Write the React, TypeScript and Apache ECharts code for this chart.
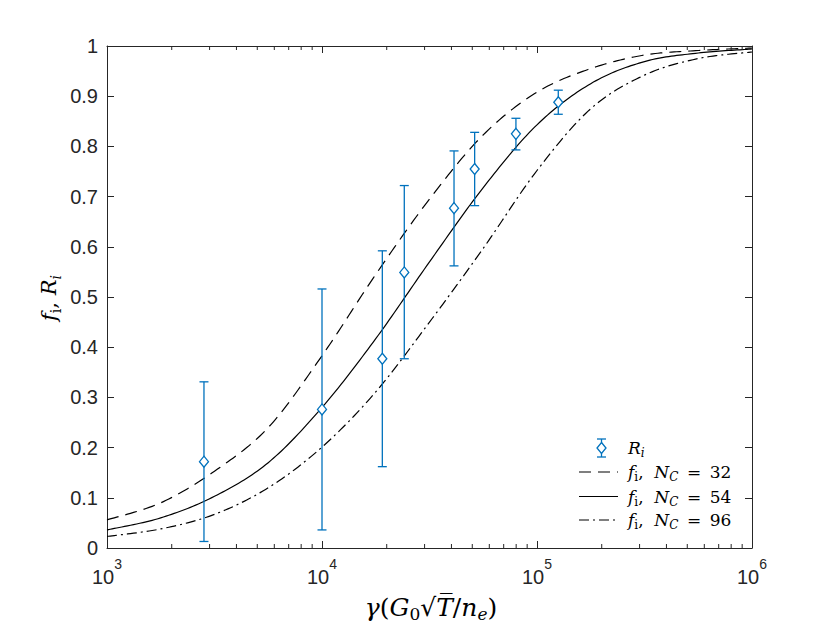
import React, { useEffect, useRef } from "react";
import * as echarts from "echarts";

// ---- data ----
const curveX = [1000, 1778, 3162, 5623, 10000, 17783, 31623, 56234, 100000, 177828, 316228, 562341, 1000000];
const fNc32 = [0.056, 0.09, 0.153, 0.24, 0.383, 0.545, 0.695, 0.823, 0.908, 0.955, 0.982, 0.991, 0.996];
const fNc54 = [0.036, 0.06, 0.103, 0.17, 0.28, 0.417, 0.57, 0.718, 0.843, 0.925, 0.969, 0.986, 0.994];
const fNc96 = [0.023, 0.038, 0.067, 0.12, 0.201, 0.311, 0.45, 0.597, 0.752, 0.875, 0.942, 0.975, 0.988];

const rX = [2825, 10000, 19080, 24140, 41120, 51290, 79800, 125600];
const rY = [0.172, 0.276, 0.377, 0.549, 0.677, 0.755, 0.825, 0.888];
const rLo = [0.013, 0.036, 0.162, 0.377, 0.562, 0.682, 0.793, 0.864];
const rHi = [0.331, 0.516, 0.592, 0.722, 0.791, 0.828, 0.856, 0.912];

const minorTicks = [
  2000, 3000, 4000, 5000, 6000, 7000, 8000, 9000,
  20000, 30000, 40000, 50000, 60000, 70000, 80000, 90000,
  200000, 300000, 400000, 500000, 600000, 700000, 800000, 900000,
];

const legendLabels = ["32", "54", "96"];

const BLUE = "#0072BD";
const AX = "#262626";
const SANS = "Liberation Sans, Arial, sans-serif";
const SERIF = "DejaVu Serif, Liberation Serif, serif";

const mathRich = (size: number, lh: number) => ({
  it: { fontFamily: SERIF, fontStyle: "italic", fontSize: size, lineHeight: lh, fill: "#000", color: "#000" },
  n: { fontFamily: SERIF, fontSize: size, lineHeight: lh, fill: "#000", color: "#000" },
  rs: { fontFamily: SERIF, fontSize: Math.round(size * 0.68), lineHeight: Math.round(size * 0.68), verticalAlign: "bottom", fill: "#000", color: "#000" },
  is: { fontFamily: SERIF, fontStyle: "italic", fontSize: Math.round(size * 0.68), lineHeight: Math.round(size * 0.68), verticalAlign: "bottom", fill: "#000", color: "#000" },
});

// Catmull-Rom smoothing of pixel points (rendering only)
function smoothPath(pts: number[][]): number[][] {
  const out: number[][] = [];
  const n = pts.length;
  for (let i = 0; i < n - 1; i++) {
    const p0 = pts[Math.max(0, i - 1)];
    const p1 = pts[i];
    const p2 = pts[i + 1];
    const p3 = pts[Math.min(n - 1, i + 2)];
    const steps = 20;
    for (let s = 0; s < steps; s++) {
      const t = s / steps;
      const t2 = t * t;
      const t3 = t2 * t;
      const f = (a: number, b: number, c: number, d: number) =>
        0.5 * (2 * b + (-a + c) * t + (2 * a - 5 * b + 4 * c - d) * t2 + (-a + 3 * b - 3 * c + d) * t3);
      out.push([f(p0[0], p1[0], p2[0], p3[0]), f(p0[1], p1[1], p2[1], p3[1])]);
    }
  }
  out.push(pts[n - 1]);
  return out;
}

export default function App() {
  const ref = useRef<HTMLDivElement>(null);

  useEffect(() => {
    document.body.style.margin = "0";
    const chart = echarts.init(ref.current!, null, { renderer: "svg" });

    const curveSeries = (name: string, vals: number[], dash: any) => ({
      name,
      type: "custom",
      silent: true,
      z: 3,
      clip: false,
      data: curveX.map((x, i) => [x, vals[i]]),
      encode: { x: 0, y: 1 },
      renderItem: (params: any, api: any) => {
        if (params.dataIndex !== 0) return { type: "group", children: [] };
        const pts = curveX.map((x, i) => api.coord([x, vals[i]]));
        const style: any = { stroke: "#000", lineWidth: 1.2, fill: "none" };
        if (dash) style.lineDash = dash;
        return {
          type: "polyline",
          shape: { points: smoothPath(pts) },
          style,
        };
      },
    });

    const legendY = [472, 496.5, 520];
    const legendDash: any[] = [[12, 7], null, [10, 4, 2, 4]];
    const graphics: any[] = [];
    graphics.push(
      { type: "line", shape: { x1: 601.5, y1: 439, x2: 601.5, y2: 457 }, style: { stroke: BLUE, lineWidth: 1.3 } },
      { type: "line", shape: { x1: 597, y1: 439, x2: 606, y2: 439 }, style: { stroke: BLUE, lineWidth: 1.3 } },
      { type: "line", shape: { x1: 597, y1: 457, x2: 606, y2: 457 }, style: { stroke: BLUE, lineWidth: 1.3 } },
      {
        type: "polygon",
        shape: { points: [[601.5, 442.5], [606, 448], [601.5, 453.5], [597, 448]] },
        style: { fill: "#fff", stroke: BLUE, lineWidth: 1.3 },
      },
      {
        type: "text",
        x: 628,
        y: 448,
        style: { text: "{it|R}{is|i}", rich: mathRich(17, 22), align: "left", verticalAlign: "middle" },
      }
    );
    legendLabels.forEach((lab, i) => {
      const st: any = { stroke: "#000", lineWidth: 1.2 };
      if (legendDash[i]) st.lineDash = legendDash[i];
      graphics.push(
        { type: "line", shape: { x1: 579, y1: legendY[i], x2: 618, y2: legendY[i] }, style: st },
        {
          type: "text",
          x: 628,
          y: legendY[i],
          style: {
            text: `{it|f}{rs|i}{n|,  }{it|N}{is|C}{n|\u2002=\u2002${lab}}`,
            rich: mathRich(17, 22),
            align: "left",
            verticalAlign: "middle",
          },
        }
      );
    });
    graphics.push(
      {
        type: "text",
        x: 49,
        y: 298,
        rotation: Math.PI / 2,
        style: { text: "{it|f}{rs|i}{n|, }{it|R}{is|i}", rich: mathRich(21, 28), align: "center", verticalAlign: "middle" },
      },
      {
        type: "text",
        x: 431,
        y: 607,
        style: {
          text: "{it|γ}{n|(}{it|G}{rs|0}{n|√}{it|T\u0305}{n|/}{it|n}{is|e}{n|)}",
          rich: mathRich(25, 30),
          align: "center",
          verticalAlign: "middle",
        },
      }
    );

    const axisLine = { show: true, onZero: false, lineStyle: { color: AX, width: 1 } };
    const tickStyle = { color: AX, width: 1 };

    chart.setOption({
      animation: false,
      grid: { left: 107, right: 78, top: 46, bottom: 75, containLabel: false },
      xAxis: [
        {
          type: "log",
          logBase: 10,
          min: 1000,
          max: 1000000,
          position: "bottom",
          axisLine,
          axisTick: { show: true, inside: true, length: 7, lineStyle: tickStyle },
          splitLine: { show: false },
          minorTick: { show: false },
          axisLabel: {
            margin: 9,
            color: AX,
            formatter: (v: number) => `{b|10}{s|${Math.round(Math.log10(v))}}`,
            rich: {
              b: { fontFamily: SANS, fontSize: 20, lineHeight: 30, verticalAlign: "bottom", color: AX },
              s: { fontFamily: SANS, fontSize: 14, lineHeight: 14, verticalAlign: "top", color: AX },
            },
          },
        },
        {
          type: "log",
          logBase: 10,
          min: 1000,
          max: 1000000,
          position: "top",
          axisLine,
          axisTick: { show: true, inside: true, length: 7, lineStyle: tickStyle },
          splitLine: { show: false },
          axisLabel: { show: false },
        },
      ],
      yAxis: [
        {
          type: "value",
          min: 0,
          max: 1,
          interval: 0.1,
          position: "left",
          axisLine,
          axisTick: { show: true, inside: true, length: 7, lineStyle: tickStyle },
          splitLine: { show: false },
          axisLabel: { margin: 9, color: AX, fontFamily: SANS, fontSize: 20 },
        },
        {
          type: "value",
          min: 0,
          max: 1,
          interval: 0.1,
          position: "right",
          axisLine,
          axisTick: { show: true, inside: true, length: 7, lineStyle: tickStyle },
          splitLine: { show: false },
          axisLabel: { show: false },
        },
      ],
      series: [
        curveSeries("Nc32", fNc32, [12, 7]),
        curveSeries("Nc54", fNc54, null),
        curveSeries("Nc96", fNc96, [10, 4, 2, 4]),
        {
          name: "Ri",
          type: "custom",
          z: 5,
          silent: true,
          data: rX.map((x, i) => [x, rY[i], rLo[i], rHi[i]]),
          encode: { x: 0, y: [1, 2, 3] },
          renderItem: (params: any, api: any) => {
            const x = api.value(0);
            const c = api.coord([x, api.value(1)]);
            const lo = api.coord([x, api.value(2)]);
            const hi = api.coord([x, api.value(3)]);
            const st = { stroke: BLUE, lineWidth: 1.3, fill: "none" };
            const w = 4.5;
            return {
              type: "group",
              children: [
                { type: "line", shape: { x1: c[0], y1: lo[1], x2: c[0], y2: hi[1] }, style: st },
                { type: "line", shape: { x1: c[0] - w, y1: lo[1], x2: c[0] + w, y2: lo[1] }, style: st },
                { type: "line", shape: { x1: c[0] - w, y1: hi[1], x2: c[0] + w, y2: hi[1] }, style: st },
                {
                  type: "polygon",
                  shape: { points: [[c[0], c[1] - 5.5], [c[0] + 4.5, c[1]], [c[0], c[1] + 5.5], [c[0] - 4.5, c[1]]] },
                  style: { stroke: BLUE, lineWidth: 1.3, fill: "#fff" },
                },
              ],
            };
          },
        },
        {
          name: "minor",
          type: "custom",
          silent: true,
          z: 6,
          data: minorTicks.map((v) => [v, 0]),
          encode: { x: 0, y: 1 },
          renderItem: (params: any, api: any) => {
            const x = api.coord([api.value(0), 0])[0];
            const cs = params.coordSys;
            const st = { stroke: AX, lineWidth: 1 };
            return {
              type: "group",
              children: [
                { type: "line", shape: { x1: x, y1: cs.y + cs.height, x2: x, y2: cs.y + cs.height - 4 }, style: st },
                { type: "line", shape: { x1: x, y1: cs.y, x2: x, y2: cs.y + 4 }, style: st },
              ],
            };
          },
        },
      ],
      graphic: graphics,
    });

    return () => chart.dispose();
  }, []);

  return <div ref={ref} style={{ width: 830, height: 623, background: "#fff" }} />;
}
